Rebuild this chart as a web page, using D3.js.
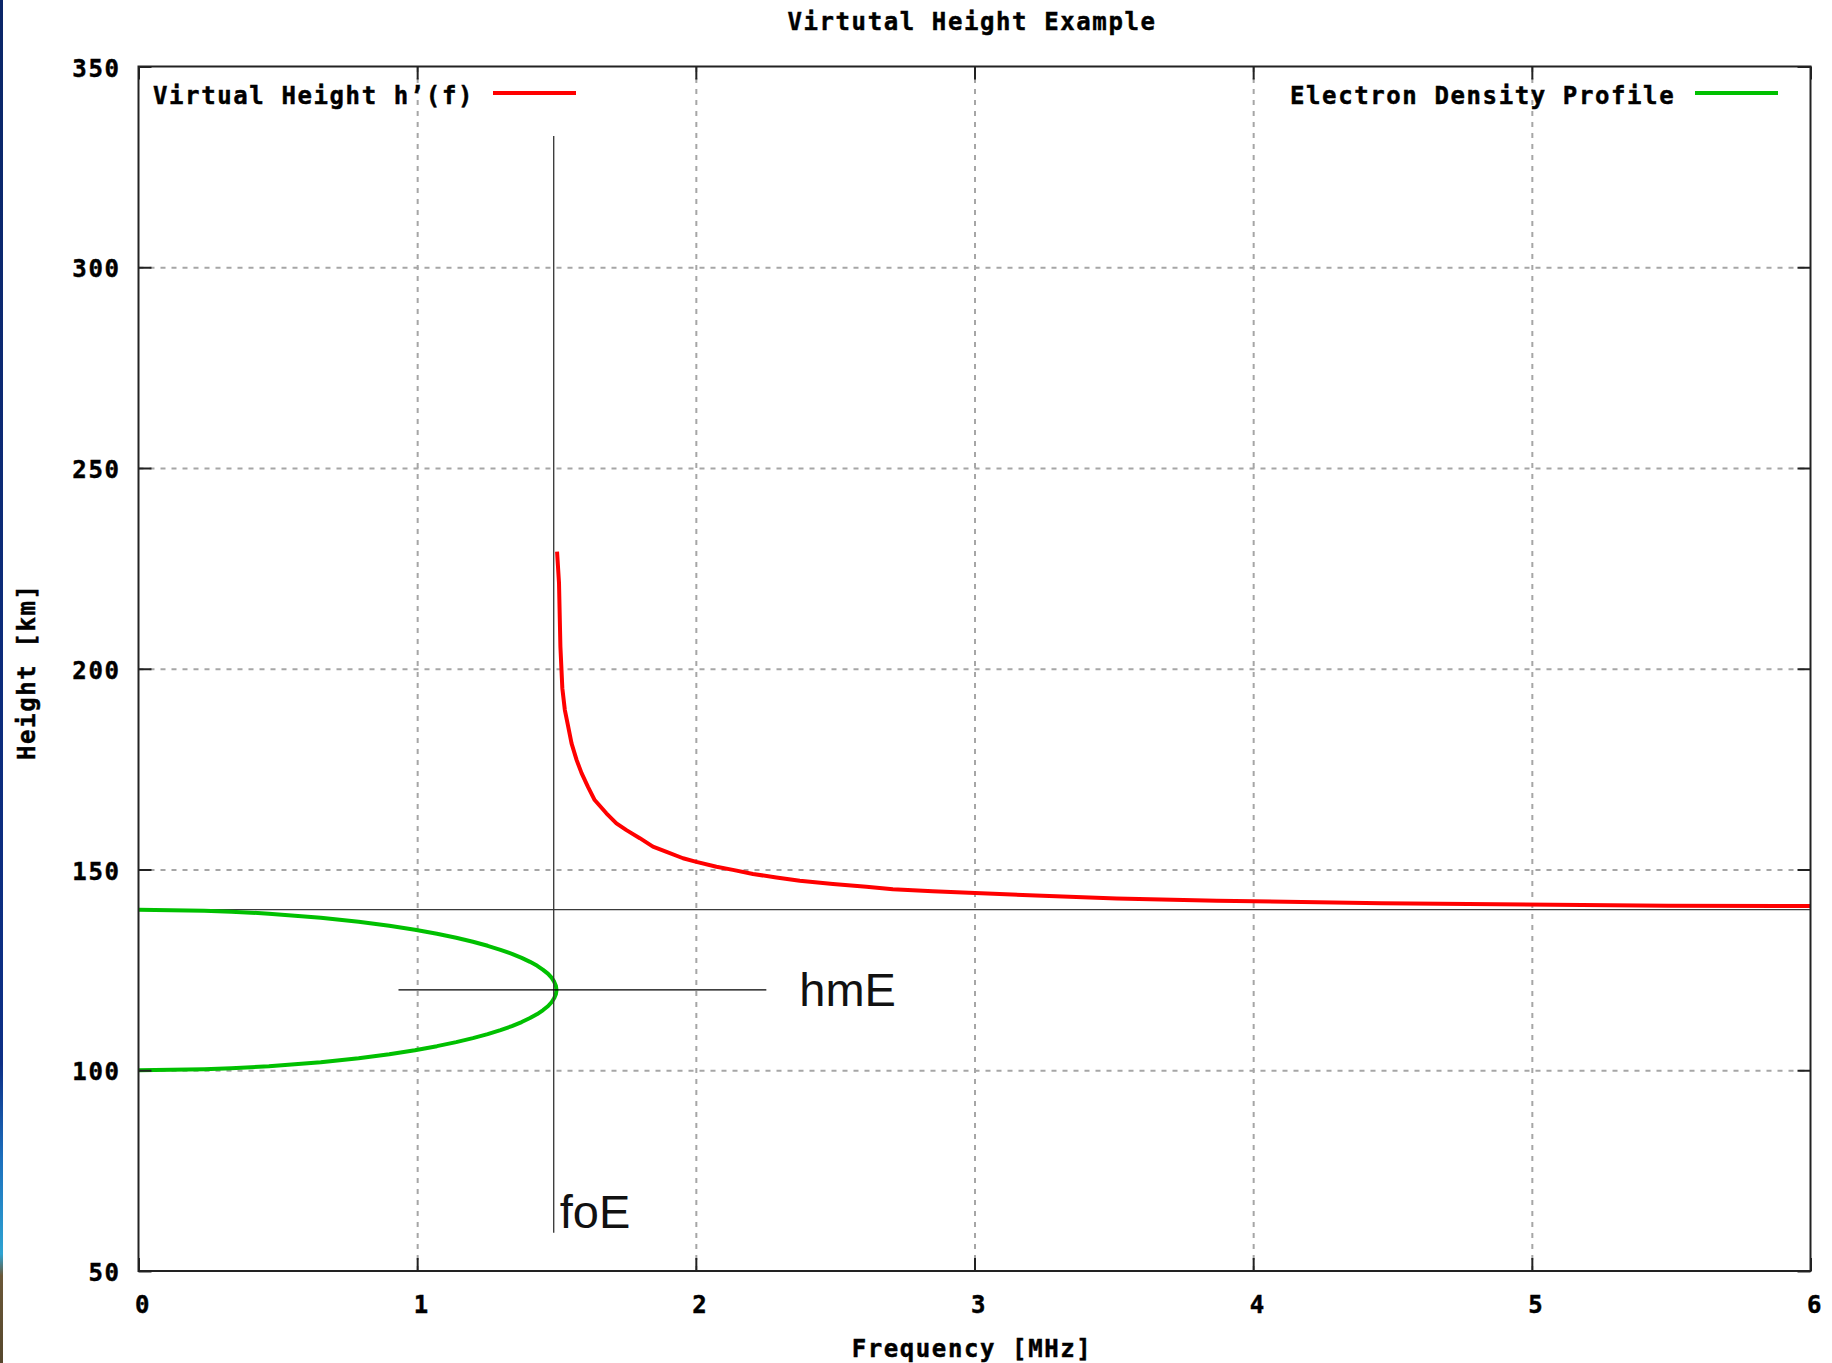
<!DOCTYPE html>
<html>
<head>
<meta charset="utf-8">
<script src="https://cdn.jsdelivr.net/npm/d3@7/dist/d3.min.js"></script>
<style>
  html, body { margin: 0; padding: 0; background: #fff; }
  svg { display: block; }
  .mono { font-family: "DejaVu Sans Mono", "Liberation Mono", monospace; font-weight: bold; font-size: 24px; letter-spacing: 1.6px; fill: #000; stroke: #000; stroke-width: 0.45px; }
  .anno { font-family: "Liberation Sans", Arial, sans-serif; font-size: 47px; fill: #111; }
</style>
</head>
<body>
<svg id="chart" width="1832" height="1363"></svg>
<script>
// Axis ticks
const xTicks = [0, 1, 2, 3, 4, 5, 6];
const yTicks = [50, 100, 150, 200, 250, 300, 350];
const xGrid = [1, 2, 3, 4, 5];
const yGrid = [100, 150, 200, 250, 300];

// Electron density profile: plasma frequency [MHz] at each height [km]
const profileHeight = [100, 100.25, 100.5, 101, 102, 103, 104, 105, 106, 107, 108, 109, 110,
  111, 112, 113, 114, 115, 116, 117, 118, 119, 120, 121, 122, 123, 124, 125, 126, 127, 128,
  129, 130, 131, 132, 133, 134, 135, 136, 137, 138, 139, 139.5, 139.75, 140];
const profileFreq = [0, 0.236, 0.333, 0.468, 0.654, 0.790, 0.900, 0.992, 1.071, 1.140, 1.200,
  1.253, 1.299, 1.340, 1.375, 1.405, 1.431, 1.452, 1.470, 1.483, 1.492, 1.498, 1.500, 1.498,
  1.492, 1.483, 1.470, 1.452, 1.431, 1.405, 1.375, 1.340, 1.299, 1.253, 1.200, 1.140, 1.071,
  0.992, 0.900, 0.790, 0.654, 0.468, 0.333, 0.236, 0];

// Virtual height h'(f): frequency [MHz] and virtual height [km]
const virtualFreq = [1.502, 1.509, 1.514, 1.521, 1.530, 1.542, 1.554, 1.572, 1.590, 1.613,
  1.637, 1.679, 1.715, 1.751, 1.799, 1.846, 1.895, 1.954, 2.002, 2.074, 2.133, 2.205, 2.289,
  2.373, 2.492, 2.612, 2.707, 2.850, 2.980, 3.220, 3.510, 3.870, 4.460, 5.490, 6.000];
const virtualHeight = [229.2, 221.3, 205.5, 195.1, 189.7, 185.6, 181.4, 177.3, 174.0, 170.6,
  167.3, 164.0, 161.5, 159.8, 157.8, 155.7, 154.4, 152.8, 151.9, 150.7, 149.9, 148.9, 148.0,
  147.2, 146.4, 145.7, 145.1, 144.6, 144.2, 143.5, 142.8, 142.2, 141.6, 141.0, 140.9];

// Layer parameters marked on the chart
const foE = 1.49;        // critical frequency marker [MHz]
const hmE = 120;         // peak height marker [km]
const layerTop = 140;    // upper edge of the layer [km]

const svg = d3.select("#chart");
const W = 1832, H = 1363;
const plot = { left: 138.5, right: 1810.5, top: 66.5, bottom: 1271 };
const pw = plot.right - plot.left, ph = plot.bottom - plot.top;

const x = d3.scaleLinear().domain([0, 6]).range([plot.left, plot.right]);
const y = d3.scaleLinear().domain([50, 350]).range([plot.bottom, plot.top]);

// Thin coloured strip along the left edge of the page
const defs = svg.append("defs");
const grad = defs.append("linearGradient").attr("id", "edge").attr("x1", 0).attr("x2", 0).attr("y1", 0).attr("y2", 1);
[["0%", "#0b2668"], ["78%", "#0d2f86"], ["85%", "#1c6fbd"], ["92%", "#2ea3d2"], ["93.6%", "#6b5838"], ["100%", "#56472d"]]
  .forEach(([o, c]) => grad.append("stop").attr("offset", o).attr("stop-color", c));
svg.append("rect").attr("x", 0).attr("y", 0).attr("width", 3).attr("height", H).attr("fill", "url(#edge)");

// Grid
const gridStyle = g => {
  g.select(".domain").remove();
  g.selectAll(".tick line").attr("stroke", "#a6a6a6").attr("stroke-width", 2).attr("stroke-dasharray", "5,6");
};
svg.append("g").attr("transform", `translate(0,${plot.bottom})`)
  .call(d3.axisBottom(x).tickValues(xGrid).tickSize(-ph).tickFormat(""))
  .call(gridStyle);
svg.append("g").attr("transform", `translate(${plot.left},0)`)
  .call(d3.axisLeft(y).tickValues(yGrid).tickSize(-pw).tickFormat(""))
  .call(gridStyle);

// Upper edge of the layer
svg.append("line")
  .attr("x1", x(0)).attr("x2", x(6)).attr("y1", y(layerTop)).attr("y2", y(layerTop))
  .attr("stroke", "#3a3a3a").attr("stroke-width", 1.3);

// Curves
const profile = profileHeight.map((h, i) => [profileFreq[i], h]);
const virtual = virtualFreq.map((f, i) => [f, virtualHeight[i]]);
const line = d3.line().x(d => x(d[0])).y(d => y(d[1]));

svg.append("path").datum(profile).attr("d", line)
  .attr("fill", "none").attr("stroke", "#00c000").attr("stroke-width", 4).attr("stroke-linejoin", "round");
svg.append("path").datum(virtual).attr("d", line)
  .attr("fill", "none").attr("stroke", "#ff0000").attr("stroke-width", 4).attr("stroke-linejoin", "round");

// foE and hmE markers
svg.append("line")
  .attr("x1", x(foE)).attr("x2", x(foE)).attr("y1", y(332.7)).attr("y2", y(59.5))
  .attr("stroke", "#333").attr("stroke-width", 1.3);
svg.append("line")
  .attr("x1", x(0.933)).attr("x2", x(2.253)).attr("y1", y(hmE)).attr("y2", y(hmE))
  .attr("stroke", "#000").attr("stroke-width", 1.3);
svg.append("text").attr("class", "anno")
  .attr("x", x(2.253) + 33).attr("y", y(hmE) + 16).text("hmE");
svg.append("text").attr("class", "anno")
  .attr("x", x(foE) + 6).attr("y", y(59.5) - 5).text("foE");

// Border
svg.append("rect")
  .attr("x", plot.left).attr("y", plot.top).attr("width", pw).attr("height", ph)
  .attr("fill", "none").attr("stroke", "#222").attr("stroke-width", 2);

// Tick marks (inward, mirrored on all sides) and tick labels
const tickLen = 13;
const tickStyle = g => {
  g.select(".domain").remove();
  g.selectAll(".tick line").attr("stroke", "#222").attr("stroke-width", 2);
  g.selectAll(".tick text").attr("class", "mono").attr("fill", "#000");
};
svg.append("g").attr("transform", `translate(0,${plot.bottom})`)
  .call(d3.axisBottom(x).tickValues(xTicks).tickSizeInner(-tickLen).tickSizeOuter(0).tickPadding(25).tickFormat(d3.format("d")))
  .call(tickStyle)
  .call(g => g.selectAll(".tick text").attr("dx", 4));
svg.append("g").attr("transform", `translate(0,${plot.top})`)
  .call(d3.axisTop(x).tickValues(xTicks).tickSizeInner(-tickLen).tickSizeOuter(0).tickFormat(""))
  .call(tickStyle);
svg.append("g").attr("transform", `translate(${plot.left},0)`)
  .call(d3.axisLeft(y).tickValues(yTicks).tickSizeInner(-tickLen).tickSizeOuter(0).tickPadding(18).tickFormat(d3.format("d")))
  .call(tickStyle)
  .call(g => g.selectAll(".tick text").attr("dy", "0.4em"));
svg.append("g").attr("transform", `translate(${plot.right},0)`)
  .call(d3.axisRight(y).tickValues(yTicks).tickSizeInner(-tickLen).tickSizeOuter(0).tickFormat(""))
  .call(tickStyle);

// Titles
svg.append("text").attr("class", "mono").attr("text-anchor", "middle")
  .attr("x", 972).attr("y", 30).text("Virtutal Height Example");
svg.append("text").attr("class", "mono").attr("text-anchor", "middle")
  .attr("x", 972).attr("y", 1357).text("Frequency [MHz]");
svg.append("text").attr("class", "mono").attr("text-anchor", "middle")
  .attr("transform", `translate(35,${(plot.top + plot.bottom) / 2 + 3}) rotate(-90)`)
  .text("Height [km]");

// Legend
svg.append("text").attr("class", "mono").attr("x", 153).attr("y", 103.5).text("Virtual Height h\u2019(f)");
svg.append("line").attr("x1", 493).attr("x2", 576).attr("y1", 93).attr("y2", 93)
  .attr("stroke", "#ff0000").attr("stroke-width", 4);
svg.append("text").attr("class", "mono").attr("x", 1290).attr("y", 103.5).text("Electron Density Profile");
svg.append("line").attr("x1", 1695).attr("x2", 1778).attr("y1", 93).attr("y2", 93)
  .attr("stroke", "#00c000").attr("stroke-width", 4);
</script>
</body>
</html>
